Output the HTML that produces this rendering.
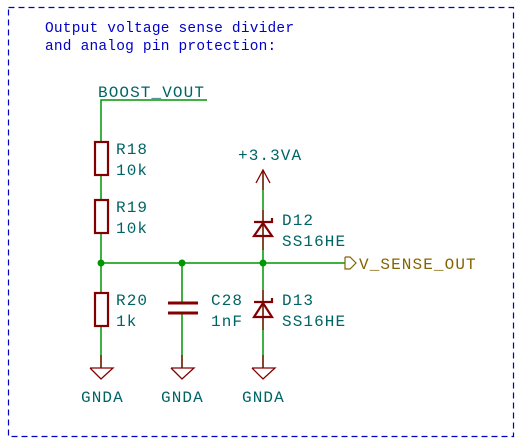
<!DOCTYPE html>
<html><head><meta charset="utf-8"><style>
html,body{margin:0;padding:0;background:#fff;}
svg{display:block;}
text{font-family:"Liberation Mono",monospace;font-size:14.5px;}
.l{letter-spacing:1.1px;font-size:16px;}
.n{letter-spacing:0.2px;}
</style></head><body>
<svg width="529" height="443" viewBox="0 0 529 443" xmlns="http://www.w3.org/2000/svg">
<rect x="8.5" y="7.5" width="505" height="429" fill="none" stroke="#0000c0" stroke-width="1.2" stroke-dasharray="6,4"/>
<text class="n" x="45" y="32" fill="#0000c8">Output voltage sense divider</text>
<text class="n" x="45" y="50" fill="#0000c8">and analog pin protection:</text>

<g stroke="#009600" stroke-width="1.5" fill="none">
<polyline points="207,100 101,100 101,142"/>
<line x1="101" y1="175" x2="101" y2="200"/>
<line x1="101" y1="233" x2="101" y2="293"/>
<line x1="101" y1="326" x2="101" y2="368"/>
<line x1="101" y1="263" x2="345" y2="263"/>
<line x1="182" y1="263" x2="182" y2="303"/>
<line x1="182" y1="313" x2="182" y2="368"/>
<line x1="263" y1="170" x2="263" y2="368"/>
</g>
<g fill="#009600">
<circle cx="101" cy="263" r="3.5"/><circle cx="182" cy="263" r="3.5"/><circle cx="263" cy="263" r="3.5"/>
</g>

<g stroke="#840000" stroke-width="2.2" fill="none">
<rect x="95" y="142" width="13" height="33"/>
<rect x="95" y="200" width="13" height="33"/>
<rect x="95" y="293" width="13" height="33"/>
<line x1="168" y1="303" x2="198" y2="303" stroke-width="3"/>
<line x1="168" y1="313" x2="198" y2="313" stroke-width="3"/>
<polygon points="263,223 254,236 272,236"/>
<polyline points="254,222 272,222 272,218"/>
<polygon points="263,303 254,317 272,317"/>
<polyline points="254,302 272,302 272,298"/>
</g>
<g stroke="#840000" stroke-width="1.3" fill="none">
<line x1="263" y1="170" x2="263" y2="190"/>
<polyline points="256,183 263,170 270,183"/>
<polyline points="90,368 113,368 101,379 90,368"/>
<polyline points="171,368 194,368 182,379 171,368"/>
<polyline points="252,368 275,368 263,379 252,368"/>
<line x1="101" y1="355" x2="101" y2="368"/>
<line x1="182" y1="355" x2="182" y2="368"/>
<line x1="263" y1="355" x2="263" y2="368"/>
<line x1="263" y1="210" x2="263" y2="250"/>
<line x1="263" y1="290" x2="263" y2="330"/>
</g>
<polyline points="345,257 350,257 356,263 350,269 345,269 345,257" fill="none" stroke="#846400" stroke-width="1.2"/>
<text class="l" x="359" y="269" fill="#846400">V_SENSE_OUT</text>

<g fill="#006464" class="l">
<text class="l" x="98" y="97">BOOST_VOUT</text>
<text class="l" x="116" y="154">R18</text><text class="l" x="116" y="175">10k</text>
<text class="l" x="116" y="212">R19</text><text class="l" x="116" y="233">10k</text>
<text class="l" x="116" y="305">R20</text><text class="l" x="116" y="326">1k</text>
<text class="l" x="211" y="305">C28</text><text class="l" x="211" y="326">1nF</text>
<text class="l" x="282" y="225">D12</text><text class="l" x="282" y="246">SS16HE</text>
<text class="l" x="282" y="305">D13</text><text class="l" x="282" y="326">SS16HE</text>
<text class="l" x="238" y="160">+3.3VA</text>
<text class="l" x="81" y="402">GNDA</text>
<text class="l" x="161" y="402">GNDA</text>
<text class="l" x="242" y="402">GNDA</text>
</g>
</svg>
</body></html>
